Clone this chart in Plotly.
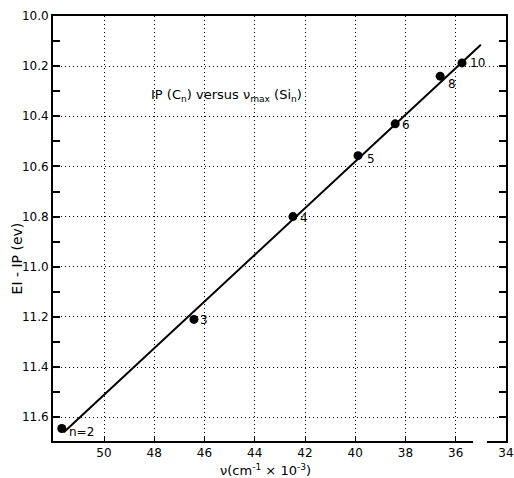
import plotly.graph_objects as go

# data
nu = [51.68, 46.42, 42.48, 39.89, 38.41, 36.62, 35.75]
ei_ip = [11.645, 11.21, 10.80, 10.557, 10.43, 10.24, 10.187]
labels = ["n=2", "3", "4", "5", "6", "8", "10"]
fit_nu = [51.6, 35.0]
fit_ei = [11.66, 10.115]
x_ticks = [50, 48, 46, 44, 42, 40, 38, 36, 34]
y_ticks = [10.0, 10.2, 10.4, 10.6, 10.8, 11.0, 11.2, 11.4, 11.6]

FONT = "DejaVu Sans"

fig = go.Figure()
fig.add_trace(go.Scatter(x=fit_nu, y=fit_ei, mode="lines",
                         line=dict(color="black", width=2), hoverinfo="skip"))
fig.add_trace(go.Scatter(x=nu, y=ei_ip, mode="markers",
                         marker=dict(color="black", size=9)))

shifts = [(20, -4), (10, -1), (11, -1), (13, -3), (11, -1), (12, -8), (15, 0)]
for xv, yv, lab, (dx, dy) in zip(nu, ei_ip, labels, shifts):
    fig.add_annotation(x=xv, y=yv, text=lab, showarrow=False,
                       xshift=dx, yshift=dy,
                       font=dict(family=FONT, size=12, color="black"))

fig.add_annotation(x=45.13, y=10.316,
                   text="IP (C<sub>n</sub>) versus \u03bd<sub>max</sub> (Si<sub>n</sub>)",
                   showarrow=False, font=dict(family=FONT, size=13, color="black"))

# axis titles
fig.add_annotation(xref="paper", yref="paper", x=0.47, y=-0.045,
                   xanchor="center", yanchor="top",
                   text="\u03bd(cm<sup>-1</sup> \u00d7 10<sup>-3</sup>)", showarrow=False,
                   font=dict(family=FONT, size=13, color="black"))
fig.add_annotation(xref="paper", yref="paper", x=-0.079, y=0.43, textangle=-90,
                   xanchor="center", yanchor="middle",
                   text="EI - IP (ev)", showarrow=False,
                   font=dict(family=FONT, size=14, color="black"))

# gap in bottom axis line
fig.add_shape(type="rect", xref="x", yref="paper", x0=35.31, x1=34.76, y0=-0.01, y1=0.01,
              fillcolor="white", line=dict(width=0), layer="above")

GRID_DASH = "1px,3px"

fig.update_xaxes(range=[52.03, 34], tickvals=x_ticks, ticktext=[str(v) for v in x_ticks],
                 automargin=False,
                 showgrid=True, gridcolor="black", griddash=GRID_DASH, gridwidth=1,
                 showline=True, linecolor="black", linewidth=2, mirror=True,
                 ticks="inside", ticklen=5, tickwidth=1, tickcolor="black",
                 zeroline=False,
                 tickfont=dict(family=FONT, size=12, color="black"))
fig.update_yaxes(range=[11.695, 10.0], tickvals=y_ticks, ticktext=[f"{v:.1f}" for v in y_ticks],
                 automargin=False,
                 showgrid=True, gridcolor="black", griddash=GRID_DASH, gridwidth=1,
                 showline=True, linecolor="black", linewidth=2, mirror="ticks",
                 ticks="inside", ticklen=7, tickwidth=1.5, tickcolor="black",
                 minor=dict(dtick=0.1, tick0=10.1, ticks="inside", ticklen=7, tickwidth=1.5,
                            tickcolor="black", showgrid=False),
                 zeroline=False,
                 tickfont=dict(family=FONT, size=12, color="black"))

fig.update_layout(width=514, height=478, showlegend=False,
                  paper_bgcolor="white", plot_bgcolor="white",
                  margin=dict(l=53, r=8, t=16, b=37))

fig.write_html("out.html", config={"displayModeBar": False},
               post_script="document.body.style.margin='0';document.body.style.overflow='hidden';")
